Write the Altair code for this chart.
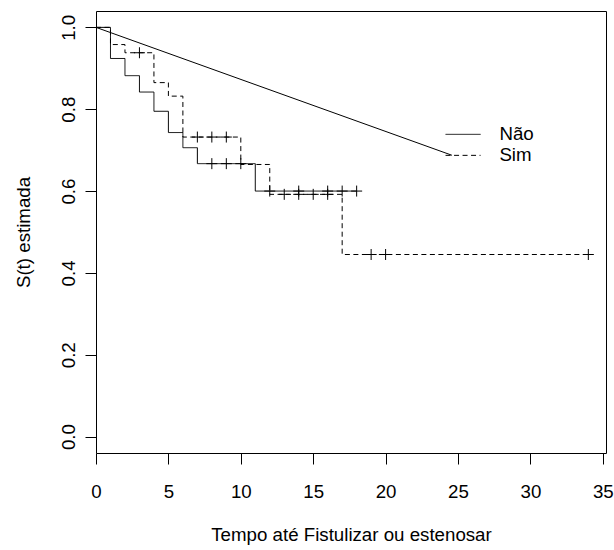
import altair as alt
import pandas as pd

# Kaplan-Meier step data
nao_t = [0, 1, 2, 3, 4, 5, 6, 7, 11, 18]
nao_s = [1.0, 0.924, 0.882, 0.842, 0.795, 0.743, 0.706, 0.667, 0.600, 0.600]
sim_t = [0, 1, 2, 4, 5, 6, 10, 12, 17, 34]
sim_s = [1.0, 0.958, 0.938, 0.865, 0.832, 0.732, 0.665, 0.592, 0.445, 0.445]

# censoring marks
nao_cens_t = [8, 9, 10, 12, 14, 16, 17, 18]
nao_cens_s = [0.667, 0.667, 0.667, 0.600, 0.600, 0.600, 0.600, 0.600]
sim_cens_t = [3, 7, 8, 9, 13, 14, 15, 16, 19, 20, 34]
sim_cens_s = [0.938, 0.732, 0.732, 0.732, 0.592, 0.592, 0.592, 0.592, 0.445, 0.445, 0.445]

# straight line drawn from the origin to the legend
diag_t = [0, 24.58]
diag_s = [1.0, 0.6875]

groups = ["Não", "Sim"]
x_ticks = [0, 5, 10, 15, 20, 25, 30, 35]
y_ticks = [0.0, 0.2, 0.4, 0.6, 0.8, 1.0]

FONT = "Liberation Sans"
FS = 18.7

steps = pd.DataFrame(
    {"t": nao_t + sim_t, "s": nao_s + sim_s,
     "grupo": ["Não"] * len(nao_t) + ["Sim"] * len(sim_t)}
)
cens = pd.DataFrame(
    {"t": nao_cens_t + sim_cens_t, "s": nao_cens_s + sim_cens_s,
     "grupo": ["Não"] * len(nao_cens_t) + ["Sim"] * len(sim_cens_t)}
)
diag = pd.DataFrame({"t": diag_t, "s": diag_s})

xscale = alt.Scale(domain=[0, 35.22], nice=False, zero=False)
yscale = alt.Scale(domain=[-0.04, 1.04], nice=False, zero=False)

xaxis = alt.Axis(
    values=x_ticks, title="Tempo até Fistulizar ou estenosar", grid=False, domain=False,
    tickSize=11, tickColor="black", labelColor="black", labelFont=FONT, labelFontSize=FS,
    labelBaseline="alphabetic", labelPadding=33, labelFlush=False,
    titleFont=FONT, titleFontSize=FS, titleFontWeight="normal", titleColor="black",
    titleBaseline="alphabetic", titleX=255, titleY=87, titleAlign="center",
)
yaxis = alt.Axis(
    values=y_ticks, format=".1f", title="S(t) estimada", grid=False, domain=False,
    tickSize=11, tickColor="black", labelColor="black", labelFont=FONT, labelFontSize=FS,
    labelAngle=-90, labelAlign="center", labelBaseline="alphabetic", labelPadding=11,
    labelFlush=False,
    titleFont=FONT, titleFontSize=FS, titleFontWeight="normal", titleColor="black",
    titleBaseline="alphabetic", titleAngle=-90, titleX=-66.5, titleY=221, titleAlign="center",
)

x = alt.X("t:Q", scale=xscale, axis=xaxis)
y = alt.Y("s:Q", scale=yscale, axis=yaxis)

lines = alt.Chart(steps).mark_line(
    interpolate="step-after", color="black", strokeWidth=1
).encode(
    x=x, y=y,
    strokeDash=alt.StrokeDash(
        "grupo:N",
        scale=alt.Scale(domain=groups, range=[[1, 0], [5, 3.5]]),
        legend=alt.Legend(
            title=None, orient="none", legendX=357.7, legendY=114,
            symbolType="M-3.5,0L3.5,0", symbolSize=100, symbolStrokeWidth=1,
            symbolStrokeColor="black", symbolFillColor="transparent",
            labelFont=FONT, labelFontSize=FS,
            labelColor="black", labelOffset=27, rowPadding=1, padding=0,
        ),
    ),
    detail="grupo:N",
)

diag_line = alt.Chart(diag).mark_line(color="black", strokeWidth=1).encode(
    x="t:Q", y="s:Q"
)

marks = alt.Chart(cens).mark_point(
    shape="M-1,0L1,0M0,-1L0,1", filled=False, color="black", strokeWidth=1,
    size=121, opacity=1,
).encode(x="t:Q", y="s:Q")

chart = alt.layer(lines, diag_line, marks).properties(
    width=510, height=442,
    autosize=alt.AutoSizeParams(type="none"),
    padding={"left": 96, "top": 11, "right": 8, "bottom": 97},
    background="white",
).configure_view(stroke="black", strokeWidth=1)

chart.save("out.html", embed_options={"renderer": "svg", "actions": False})
